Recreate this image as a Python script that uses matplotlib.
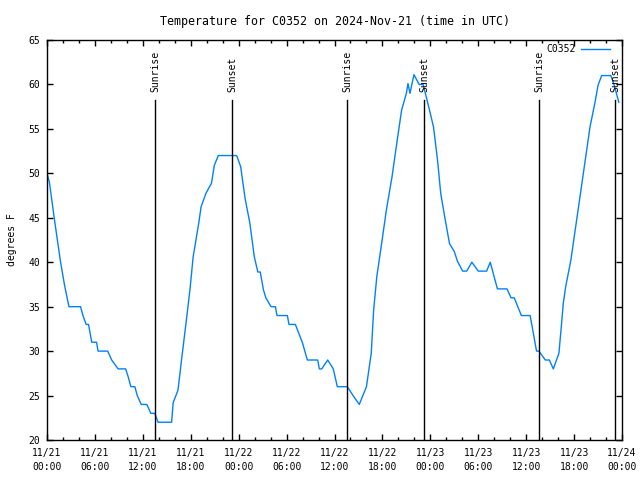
import numpy as np
import matplotlib
matplotlib.use("Agg")
import matplotlib.pyplot as plt
import matplotlib.dates as mdates
from datetime import datetime, timedelta

# hours after 2024-11-21 00:00 UTC
hours = [0, 0.3, 0.9, 1.7, 2.2, 2.75, 4.2, 4.5, 4.9, 5.2, 5.6, 6.2, 6.4, 7.6, 8.1,
         8.9, 9.85, 10.2, 10.5, 11.0, 11.3, 11.8, 12.5, 13.0, 13.5, 13.9, 15.6,
         15.8, 16.4, 16.9, 17.4, 17.9, 18.3, 19.0, 19.3, 19.9, 20.6, 20.95, 21.45,
         23.75, 24.25, 24.8, 25.4, 25.96, 26.4, 26.7, 27.1, 27.4, 28.05, 28.6,
         28.8, 30.1, 30.3, 31.1, 32.0, 32.6, 33.9, 34.1, 34.4, 35.15, 35.85,
         36.35, 37.6, 38.4, 39.1, 40.0, 40.6, 40.9, 41.3, 41.9, 42.5, 43.2, 43.8,
         44.4, 45.0, 45.2, 45.45, 45.95, 46.6, 47.1, 47.9, 48.4, 48.9, 49.3, 49.8,
         50.4, 51.0, 51.4, 52.05, 52.55, 53.2, 54.0, 55.05, 55.5, 56.4, 57.6,
         58.1, 58.5, 59.4, 60.5, 61.3, 61.6, 62.4, 62.9, 63.4, 64.1, 64.4, 64.65,
         64.95, 65.6, 66.2, 66.8, 67.4, 68.0, 68.6, 69.0, 69.45, 70.6, 71.0, 71.6]
temps = [50, 49, 45, 40, 37.4, 35, 35, 34, 33, 33, 31, 31, 30, 30, 29,
         28, 28, 27, 26, 26, 25, 24, 24, 23, 23, 22, 22,
         24.2, 25.6, 29.4, 33.1, 36.9, 40.6, 44.4, 46.25, 47.75, 48.9, 50.9, 52,
         52, 50.75, 47.2, 44.4, 40.6, 38.9, 38.9, 36.9, 36, 35, 35,
         34, 34, 33, 33, 30.9, 29, 29, 28, 28, 29, 28,
         26, 26, 24.9, 24, 26, 29.75, 34.6, 38.4, 42.1, 45.9, 49.6, 53.4,
         57.1, 59, 60.1, 59, 61.1, 60, 60, 57.1, 55.2, 51.5, 47.75, 45.1,
         42.1, 41.2, 40.1, 39, 39, 40, 39, 39, 40, 37, 37,
         36, 36, 34, 34, 30, 30, 29, 29, 28, 29.75, 32.75, 35.4,
         37.25, 40.25, 44, 47.75, 51.5, 55.25, 57.9, 59.9, 61, 61, 60, 58]

sunrise_hours = [13.55, 37.58, 61.6]
sunset_hours = [23.19, 47.22, 71.17]

start = datetime(2024, 11, 21)
times = [start + timedelta(hours=h) for h in hours]

plt.rcParams['font.family'] = ['DejaVu Sans Mono']
plt.rcParams['font.size'] = 7

fig = plt.figure(figsize=(6.4, 4.8), dpi=100)
ax = fig.add_axes([47/640, 40/480, 575/640, 400/480])

ax.plot(times, temps, color='#0080ff', lw=1, label='C0352')

# sunrise / sunset markers
for h in sunrise_hours:
    t = start + timedelta(hours=h)
    ax.plot([t, t], [20, 58.2], color='black', lw=1)
    ax.text(t, 59.1, 'Sunrise', rotation=90, ha='center', va='bottom')
for h in sunset_hours:
    t = start + timedelta(hours=h)
    ax.plot([t, t], [20, 58.2], color='black', lw=1)
    ax.text(t, 59.1, 'Sunset', rotation=90, ha='center', va='bottom')

ax.set_xlim(start, start + timedelta(hours=72))
ax.set_ylim(20, 65)
ax.set_yticks(np.arange(20, 66, 5))
ax.xaxis.set_major_locator(mdates.HourLocator(byhour=[0, 6, 12, 18]))
ax.xaxis.set_minor_locator(mdates.HourLocator(interval=2))
ax.xaxis.set_major_formatter(mdates.DateFormatter('%m/%d\n%H:%M'))
ax.tick_params(which='both', direction='in', top=True, right=True, width=1)
ax.tick_params(which='major', length=4)
ax.tick_params(which='minor', length=2.2)
ax.tick_params(axis='x', pad=6)
ax.tick_params(axis='y', pad=5)
for s in ax.spines.values():
    s.set_linewidth(1)
for lbl in ax.get_xticklabels():
    lbl.set_linespacing(1.5)

ax.set_ylabel('degrees F', labelpad=8)
ax.set_title('Temperature for C0352 on 2024-Nov-21 (time in UTC)', pad=11)
ax.legend(loc='upper right', bbox_to_anchor=(1, 1.018), frameon=False,
          markerfirst=False, handlelength=3.0, borderaxespad=0.8, handletextpad=0.6)

fig.savefig('out.png', dpi=100)
